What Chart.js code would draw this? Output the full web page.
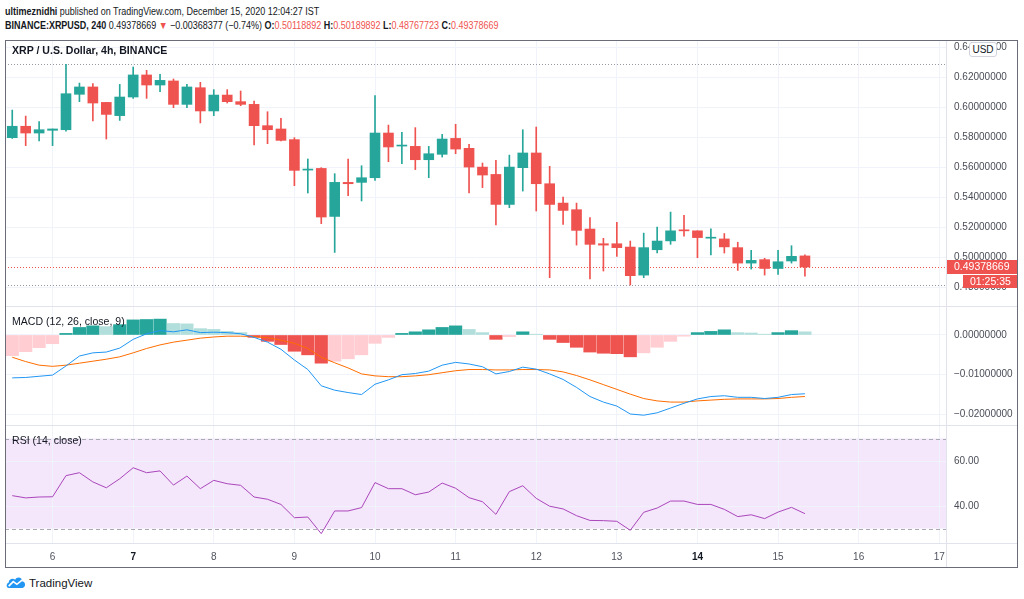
<!DOCTYPE html>
<html>
<head>
<meta charset="utf-8">
<script src="https://cdn.jsdelivr.net/npm/chart.js@4.4.0/dist/chart.umd.min.js"></script>
<style>
  body { margin: 0; background: #fff; width: 1024px; height: 599px; overflow: hidden; position: relative;
         font-family: "Liberation Sans", Arial, sans-serif; color: #131722; }
  .abs { position: absolute; }
  .sx { transform-origin: 0 0; }
  canvas { position: absolute; left: 5px; }
  #hdr1 { left: 5px; top: 5px; font-size: 10.5px; white-space: nowrap; transform: scaleX(0.855); }
  #hdr2 { left: 5px; top: 19px; font-size: 10.5px; white-space: nowrap; transform: scaleX(0.855); }
  .red { color: #ef5350; }
  .legend { left: 12px; font-size: 11px; white-space: nowrap; transform: scaleX(0.96); }
  #frame { left: 5px; top: 40px; width: 1013px; height: 528px; box-sizing: border-box; border: 1px solid #6a6d78; pointer-events: none; }
  .hsep { left: 5px; width: 1012px; height: 1px; background: #e0e3eb; }
  #vsep { left: 946px; top: 40px; width: 1px; height: 527px; background: #e0e3eb; }
  #usd { left: 969px; top: 42px; width: 26px; height: 13px; border: 1px solid #d1d4dc; border-radius: 3px; background: #fff;
         font-size: 10px; text-align: center; line-height: 13px; color: #131722; }
  #logo { left: 6px; top: 576px; font-size: 11.5px; color: #131722; display: flex; align-items: center; gap: 3px; }
</style>
</head>
<body>
<div id="hdr1" class="abs sx"><b>ultimeznidhi</b> published on TradingView.com, December 15, 2020 12:04:27 IST</div>
<div id="hdr2" class="abs sx"><b>BINANCE:XRPUSD, 240</b> 0.49378669 <span class="red">▼</span> −0.00368377 (−0.74%) <b>O:</b><span class="red">0.50118892</span> <b>H:</b><span class="red">0.50189892</span> <b>L:</b><span class="red">0.48767723</span> <b>C:</b><span class="red">0.49378669</span></div>

<canvas id="price" width="1012" height="266" style="top:40px"></canvas>
<canvas id="macd" width="1012" height="119" style="top:306px"></canvas>
<canvas id="rsi" width="1012" height="142" style="top:425px"></canvas>

<div class="abs legend sx" style="top:44px;font-weight:bold">XRP / U.S. Dollar, 4h, BINANCE</div>
<div class="abs legend sx" style="top:315px">MACD (12, 26, close, 9)</div>
<div class="abs legend sx" style="top:434px">RSI (14, close)</div>

<div class="abs hsep" style="top:306px"></div>
<div class="abs hsep" style="top:425px"></div>
<div class="abs hsep" style="top:543px"></div>
<div id="vsep" class="abs"></div>
<div id="frame" class="abs"></div>
<div id="usd" class="abs">USD</div>

<div id="logo" class="abs">
  <svg width="20" height="13" viewBox="0 0 22 14"><path d="M3 13 C0 13 0 8 3 7 C3 3 8 2 10 4 C12 0 18 1 18 6 C22 6 22 13 18 13 Z" fill="#2196f3"/><polyline points="3,11 8,6 12,9 18,4" stroke="#fff" stroke-width="1.8" fill="none"/></svg>
  <span>TradingView</span>
</div>

<script>
// 4h candles, Dec 5 12:00 -> Dec 15 08:00
const opens = [0.5800,0.5876,0.5831,0.5849,0.5853,0.6089,0.6138,0.6035,0.5947,0.6071,
  0.6218,0.6151,0.6178,0.6022,0.6133,0.5978,0.6084,0.6040,0.6022,0.5880,
  0.5858,0.5787,0.5584,0.5595,0.5275,0.5502,0.5502,0.5533,0.5831,0.5744,
  0.5742,0.5653,0.5689,0.5795,0.5729,0.5604,0.5555,0.5355,0.5600,0.5698,
  0.5493,0.5364,0.5320,0.5191,0.5093,0.5093,0.5071,0.4884,0.5053,0.5112,
  0.5183,0.5179,0.5130,0.5125,0.5067,0.4964,0.4987,0.4928,0.4978,0.50118892];
const highs = [0.5984,0.5944,0.5907,0.5858,0.6289,0.6164,0.6160,0.6035,0.6155,0.6271,
  0.6249,0.6222,0.6191,0.6155,0.6169,0.6120,0.6120,0.6111,0.6044,0.5973,
  0.5929,0.5800,0.5658,0.5600,0.5560,0.5658,0.5613,0.6080,0.5884,0.5835,
  0.5867,0.5742,0.5822,0.5889,0.5755,0.5631,0.5649,0.5684,0.5853,0.5871,
  0.5609,0.5404,0.5364,0.5267,0.5129,0.5235,0.5111,0.5164,0.5204,0.5304,
  0.5282,0.5179,0.5192,0.5161,0.5103,0.5049,0.4996,0.5049,0.5080,0.50189892];
const lows = [0.5795,0.5747,0.5778,0.5747,0.5844,0.6040,0.5911,0.5791,0.5915,0.6062,
  0.6062,0.6107,0.6000,0.6000,0.5898,0.5947,0.6031,0.6013,0.5751,0.5760,
  0.5778,0.5480,0.5431,0.5227,0.5035,0.5413,0.5378,0.5515,0.5640,0.5627,
  0.5587,0.5533,0.5671,0.5693,0.5431,0.5467,0.5218,0.5333,0.5444,0.5311,
  0.4867,0.5222,0.5084,0.4858,0.4911,0.5009,0.4818,0.4867,0.5031,0.5089,
  0.5143,0.5000,0.5018,0.5031,0.4915,0.4924,0.4884,0.4888,0.4964,0.48767723];
const closes = [0.5876,0.5831,0.5853,0.5858,0.6093,0.6138,0.6031,0.5955,0.6071,0.6218,
  0.6151,0.6182,0.6022,0.6138,0.5978,0.6084,0.6040,0.6022,0.5880,0.5853,
  0.5782,0.5582,0.5589,0.5271,0.5502,0.5493,0.5533,0.5831,0.5738,0.5747,
  0.5653,0.5693,0.5791,0.5724,0.5604,0.5551,0.5355,0.5604,0.5698,0.5493,
  0.5355,0.5315,0.5182,0.5089,0.5084,0.5067,0.4880,0.5067,0.5111,0.5179,
  0.5179,0.5134,0.5134,0.5072,0.4964,0.4982,0.4928,0.4973,0.5009,0.49378669];

const macdLine = [-0.0108,-0.0107,-0.0104,-0.0101,-0.0078,-0.0053,-0.0045,-0.0043,-0.0033,-0.0011,
  0.0003,0.0011,0.0008,0.0013,0.0006,0.0007,0.0006,0.0003,-0.0006,-0.0018,
  -0.0036,-0.0063,-0.0087,-0.0128,-0.0139,-0.0145,-0.0150,-0.0124,-0.0113,-0.0100,
  -0.0097,-0.0091,-0.0076,-0.0069,-0.0073,-0.0080,-0.0098,-0.0092,-0.0081,-0.0086,
  -0.0098,-0.0112,-0.0132,-0.0155,-0.0169,-0.0179,-0.0199,-0.0202,-0.0196,-0.0184,
  -0.0172,-0.0161,-0.0155,-0.0153,-0.0157,-0.0157,-0.0160,-0.0157,-0.0150,-0.0148];
const signalLine = [-0.0056,-0.0067,-0.0076,-0.0079,-0.0076,-0.0071,-0.0066,-0.0061,-0.0055,-0.0045,
  -0.0034,-0.0025,-0.0018,-0.0013,-0.0008,-0.0005,-0.0003,-0.0003,-0.0004,-0.0007,
  -0.0013,-0.0021,-0.0034,-0.0056,-0.0070,-0.0083,-0.0098,-0.0103,-0.0105,-0.0105,
  -0.0103,-0.0100,-0.0095,-0.0090,-0.0087,-0.0087,-0.0088,-0.0088,-0.0087,-0.0087,
  -0.0088,-0.0093,-0.0102,-0.0113,-0.0125,-0.0137,-0.0149,-0.0160,-0.0166,-0.0169,
  -0.0169,-0.0166,-0.0164,-0.0162,-0.0161,-0.0161,-0.0161,-0.0160,-0.0157,-0.0155];
const histogram = [-0.0052,-0.0042,-0.0032,-0.0022,0.0004,0.0019,0.0023,0.0021,0.0026,0.0038,
  0.0039,0.0040,0.0029,0.0028,0.0016,0.0014,0.0009,0.0006,-0.0006,-0.0016,
  -0.0024,-0.0041,-0.0050,-0.0071,-0.0066,-0.0060,-0.0050,-0.0021,-0.0006,0.0004,
  0.0008,0.0013,0.0019,0.0023,0.0014,0.0006,-0.0011,-0.0004,0.0008,0.0002,
  -0.0011,-0.0019,-0.0031,-0.0043,-0.0046,-0.0047,-0.0055,-0.0045,-0.0031,-0.0016,
  -0.0003,0.0006,0.0009,0.0013,0.0006,0.0005,0.0002,0.0006,0.0011,0.0008];
const rsi = [44.6,43.6,44.0,44.1,53.5,54.8,50.7,48.1,52.1,57.0,
  54.8,55.6,49.3,53.3,47.7,51.4,49.9,49.2,44.0,43.0,
  40.7,34.8,35.1,27.7,37.8,37.8,39.3,50.4,47.7,47.7,
  45.0,46.2,50.2,47.9,43.7,41.9,36.3,46.4,49.0,43.4,
  39.9,38.7,35.7,33.6,33.5,33.2,29.2,37.2,39.1,42.2,
  42.2,40.7,40.7,38.5,35.3,36.1,34.4,37.3,39.4,36.6];

const dayLabels = ['6', '7', '8', '9', '10', '11', '12', '13', '14', '15', '16', '17'];
const boldDays = ['7', '14'];
const firstDayIndex = 3;   // candle index of Dec 6 00:00
const candlesPerDay = 6;
const priceTicks = [0.48, 0.50, 0.52, 0.54, 0.56, 0.58, 0.60, 0.62, 0.64];
const macdTicks = [0, -0.01, -0.02];
const rsiTicks = [40, 60];
const rsiBands = [30, 70];
const countdown = '01:25:35';

const UP = '#26a69a', DOWN = '#ef5350';
const GRID = '#f0f3fa';
const FONT = '"Liberation Sans", Arial, sans-serif';
Chart.defaults.font.family = FONT;
Chart.defaults.font.size = 10;
Chart.defaults.color = '#4a4d57';

const idx = opens.map((_, i) => i);

function xScale(showLabels) {
  return {
    type: 'linear', min: -0.54, max: 69.5, offset: false,
    afterBuildTicks: s => { s.ticks = dayLabels.map((_, i) => ({ value: firstDayIndex + i * candlesPerDay })); },
    grid: { color: GRID, drawTicks: false, offset: false },
    border: { display: false },
    ticks: {
      display: showLabels, padding: 8, maxRotation: 0, autoSkip: false,
      callback: (v, i) => dayLabels[i],
      color: ctx => boldDays.includes(dayLabels[ctx.index]) ? '#131722' : '#50535e',
      font: ctx => ({ family: FONT, size: 10, weight: boldDays.includes(dayLabels[ctx.index]) ? 'bold' : 'normal' })
    },
    afterFit: s => { s.height = showLabels ? 24 : 0; s.paddingLeft = 0; s.paddingRight = 0; }
  };
}

function yScale(min, max, ticks, fmt) {
  return {
    position: 'right', min, max,
    afterBuildTicks: s => { s.ticks = ticks.map(v => ({ value: v })); },
    grid: { color: GRID, drawTicks: false },
    border: { display: false },
    ticks: { padding: 8, callback: fmt },
    afterFit: s => { s.width = 71; s.paddingTop = 0; s.paddingBottom = 0; }
  };
}

const base = {
  responsive: false, animation: false,
  layout: { padding: 0, autoPadding: false },
  plugins: { legend: { display: false }, tooltip: { enabled: false } }
};

// ---- price pane ----
const candleColors = idx.map(i => closes[i] >= opens[i] ? UP : DOWN);
const lastClose = closes[closes.length - 1];

const priceOverlay = {
  id: 'priceOverlay',
  beforeDatasetsDraw(chart) {
    const { ctx, chartArea: a, scales: { y } } = chart;
    const lines = [[Math.max(...highs), '#9598a1'], [Math.min(...lows), '#9598a1'], [lastClose, DOWN]];
    ctx.save();
    ctx.lineWidth = 1;
    ctx.setLineDash([1, 2]);
    lines.forEach(([v, c]) => {
      const py = Math.round(y.getPixelForValue(v)) + 0.5;
      ctx.strokeStyle = c;
      ctx.beginPath(); ctx.moveTo(a.left, py); ctx.lineTo(a.right, py); ctx.stroke();
    });
    ctx.restore();
  },
  afterDraw(chart) {
    const { ctx, chartArea: a, scales: { y } } = chart;
    const py = Math.round(y.getPixelForValue(lastClose));
    ctx.save();
    ctx.fillStyle = DOWN;
    ctx.fillRect(a.right, py - 7, 71, 14);
    ctx.fillRect(a.right + 17, py + 8, 54, 13);
    ctx.fillStyle = '#fff';
    ctx.font = '10.5px ' + FONT;
    ctx.textBaseline = 'middle';
    ctx.fillText(lastClose.toFixed(8), a.right + 8, py + 0.5);
    ctx.fillText(countdown, a.right + 24, py + 15);
    ctx.restore();
  }
};

new Chart(document.getElementById('price'), {
  type: 'bar',
  data: {
    datasets: [
      { data: idx.map(i => ({ x: i, y: [opens[i], closes[i]] })), backgroundColor: candleColors,
        barThickness: 10, minBarLength: 1, grouped: false, order: 0 },
      { data: idx.map(i => ({ x: i, y: [lows[i], highs[i]] })), backgroundColor: candleColors,
        barThickness: 1, grouped: false, order: 1 }
    ]
  },
  options: { ...base, scales: { x: xScale(false), y: yScale(0.4678, 0.6451, priceTicks, v => v.toFixed(8)) } },
  plugins: [priceOverlay]
});

// ---- MACD pane ----
const histColors = histogram.map((v, i) => {
  const rising = i === 0 || v > histogram[i - 1];
  if (v >= 0) return rising ? '#26a69a' : '#b2dfdb';
  return rising ? '#ffcdd2' : '#ef5350';
});
const signed = v => (v < 0 ? '−' : '') + Math.abs(v).toFixed(8);

new Chart(document.getElementById('macd'), {
  type: 'bar',
  data: {
    datasets: [
      { type: 'line', data: idx.map(i => ({ x: i, y: macdLine[i] })), borderColor: '#2196f3',
        borderWidth: 1, pointRadius: 0, order: 0 },
      { type: 'line', data: idx.map(i => ({ x: i, y: signalLine[i] })), borderColor: '#ff6d00',
        borderWidth: 1, pointRadius: 0, order: 1 },
      { data: idx.map(i => ({ x: i, y: histogram[i] })), backgroundColor: histColors,
        barThickness: 12.5, grouped: false, order: 2 }
    ]
  },
  options: { ...base, scales: { x: xScale(false), y: yScale(-0.02267, 0.0073, macdTicks, signed) } }
});

// ---- RSI pane ----
const rsiBand = {
  id: 'rsiBand',
  beforeDraw(chart) {
    const { ctx, chartArea: a, scales: { y } } = chart;
    const top = y.getPixelForValue(rsiBands[1]), bot = y.getPixelForValue(rsiBands[0]);
    ctx.save();
    ctx.fillStyle = '#f4e6fb';
    ctx.fillRect(a.left, top, a.right - a.left, bot - top);
    ctx.restore();
  },
  beforeDatasetsDraw(chart) {
    const { ctx, chartArea: a, scales: { y } } = chart;
    ctx.save();
    ctx.strokeStyle = '#a9abb3';
    ctx.lineWidth = 1;
    ctx.setLineDash([4, 3]);
    rsiBands.forEach(v => {
      const py = Math.round(y.getPixelForValue(v)) + 0.5;
      ctx.beginPath(); ctx.moveTo(a.left, py); ctx.lineTo(a.right, py); ctx.stroke();
    });
    ctx.restore();
  }
};

new Chart(document.getElementById('rsi'), {
  type: 'line',
  data: {
    datasets: [
      { data: idx.map(i => ({ x: i, y: rsi[i] })), borderColor: '#ab47bc', borderWidth: 1, pointRadius: 0 }
    ]
  },
  options: { ...base, scales: { x: xScale(true), y: yScale(23.56, 76.0, rsiTicks, v => v.toFixed(2)) } },
  plugins: [rsiBand]
});
</script>
</body>
</html>
